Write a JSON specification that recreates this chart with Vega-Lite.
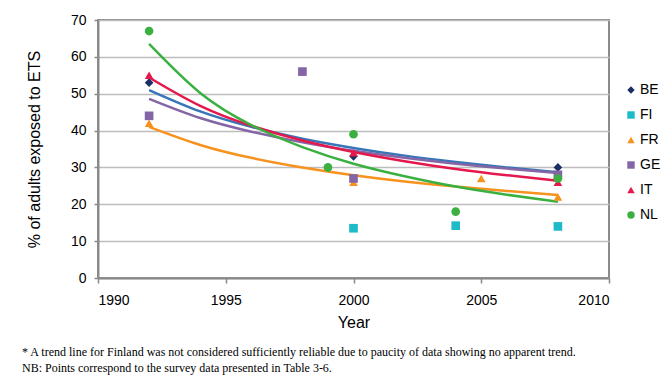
{
  "$schema": "https://vega.github.io/schema/vega-lite/v6.json",
  "width": 511,
  "height": 258,
  "autosize": {"type": "none"},
  "padding": {"left": 98, "top": 20, "right": 61, "bottom": 101},
  "background": "white",
  "title": {
    "text": ["* A trend line for Finland was not considered sufficiently reliable due to paucity of data showing no apparent trend.", "NB: Points correspond to the survey data presented in Table 3-6."],
    "orient": "bottom",
    "anchor": "start",
    "frame": "group",
    "dx": -76,
    "offset": 17,
    "font": "Liberation Serif",
    "fontSize": 12,
    "fontWeight": "normal",
    "color": "black",
    "lineHeight": 16
  },
  "datasets": {
    "points": [
      {"country": "BE", "year": 1992, "value": 53},
      {"country": "BE", "year": 2000, "value": 33},
      {"country": "BE", "year": 2008, "value": 30},
      {"country": "FI", "year": 2000, "value": 13.5},
      {"country": "FI", "year": 2004, "value": 14.2},
      {"country": "FI", "year": 2008, "value": 14},
      {"country": "FR", "year": 1992, "value": 42},
      {"country": "FR", "year": 2000, "value": 26},
      {"country": "FR", "year": 2005, "value": 27},
      {"country": "FR", "year": 2008, "value": 22},
      {"country": "GE", "year": 1992, "value": 44},
      {"country": "GE", "year": 1998, "value": 56},
      {"country": "GE", "year": 2000, "value": 27},
      {"country": "GE", "year": 2008, "value": 28},
      {"country": "IT", "year": 1992, "value": 55},
      {"country": "IT", "year": 2000, "value": 34},
      {"country": "IT", "year": 2008, "value": 26},
      {"country": "NL", "year": 1992, "value": 67},
      {"country": "NL", "year": 1999, "value": 30},
      {"country": "NL", "year": 2000, "value": 39},
      {"country": "NL", "year": 2004, "value": 18},
      {"country": "NL", "year": 2008, "value": 27}
    ],
    "trends": [
      {"country": "BE", "year": 1992, "value": 51.0},
      {"country": "BE", "year": 1994, "value": 45.2},
      {"country": "BE", "year": 1996, "value": 41.0},
      {"country": "BE", "year": 1998, "value": 37.8},
      {"country": "BE", "year": 2000, "value": 35.3},
      {"country": "BE", "year": 2002, "value": 33.2},
      {"country": "BE", "year": 2004, "value": 31.5},
      {"country": "BE", "year": 2006, "value": 30.0},
      {"country": "BE", "year": 2008, "value": 28.7},
      {"country": "FR", "year": 1992, "value": 41.0},
      {"country": "FR", "year": 1994, "value": 36.1},
      {"country": "FR", "year": 1996, "value": 32.6},
      {"country": "FR", "year": 1998, "value": 30.0},
      {"country": "FR", "year": 2000, "value": 27.9},
      {"country": "FR", "year": 2002, "value": 26.2},
      {"country": "FR", "year": 2004, "value": 24.8},
      {"country": "FR", "year": 2006, "value": 23.6},
      {"country": "FR", "year": 2008, "value": 22.5},
      {"country": "GE", "year": 1992, "value": 48.6},
      {"country": "GE", "year": 1994, "value": 43.4},
      {"country": "GE", "year": 1996, "value": 39.7},
      {"country": "GE", "year": 1998, "value": 36.8},
      {"country": "GE", "year": 2000, "value": 34.5},
      {"country": "GE", "year": 2002, "value": 32.6},
      {"country": "GE", "year": 2004, "value": 31.0},
      {"country": "GE", "year": 2006, "value": 29.7},
      {"country": "GE", "year": 2008, "value": 28.5},
      {"country": "IT", "year": 1992, "value": 54.4},
      {"country": "IT", "year": 1994, "value": 46.7},
      {"country": "IT", "year": 1996, "value": 41.3},
      {"country": "IT", "year": 1998, "value": 37.3},
      {"country": "IT", "year": 2000, "value": 34.2},
      {"country": "IT", "year": 2002, "value": 31.7},
      {"country": "IT", "year": 2004, "value": 29.6},
      {"country": "IT", "year": 2006, "value": 27.9},
      {"country": "IT", "year": 2008, "value": 26.4},
      {"country": "NL", "year": 1992, "value": 63.5},
      {"country": "NL", "year": 1994, "value": 50.2},
      {"country": "NL", "year": 1996, "value": 41.5},
      {"country": "NL", "year": 1998, "value": 35.5},
      {"country": "NL", "year": 2000, "value": 31.0},
      {"country": "NL", "year": 2002, "value": 27.6},
      {"country": "NL", "year": 2004, "value": 24.8},
      {"country": "NL", "year": 2006, "value": 22.6},
      {"country": "NL", "year": 2008, "value": 20.7}
    ]
  },
  "config": {
    "view": {"stroke": "#8a8a8a", "strokeWidth": 2},
    "axis": {
      "labelFont": "Liberation Sans",
      "titleFont": "Liberation Sans",
      "labelFontSize": 14,
      "titleFontSize": 16,
      "titleFontWeight": "normal",
      "labelColor": "black",
      "titleColor": "black",
      "domainColor": "#8a8a8a",
      "domainWidth": 2,
      "tickColor": "#8a8a8a",
      "tickWidth": 1.5
    },
    "legend": {
      "labelFont": "Liberation Sans",
      "labelFontSize": 14,
      "labelColor": "black"
    }
  },
  "encoding": {
    "x": {
      "field": "year",
      "type": "quantitative",
      "title": "Year",
      "scale": {"domain": [1990, 2010], "nice": false, "zero": false},
      "axis": {"values": [1990, 1995, 2000, 2005, 2010], "format": "d", "grid": false, "tickSize": 5, "labelPadding": 10, "titlePadding": 7}
    },
    "y": {
      "field": "value",
      "type": "quantitative",
      "title": "% of adults exposed to ETS",
      "scale": {"domain": [0, 70], "nice": false},
      "axis": {"values": [0, 10, 20, 30, 40, 50, 60, 70], "grid": true, "gridColor": "#bdbdbd", "gridWidth": 1.5, "tickSize": 4, "labelPadding": 8, "titlePadding": 28}
    }
  },
  "layer": [
    {
      "data": {"name": "trends"},
      "mark": {"type": "line", "strokeWidth": 2.5, "interpolate": "natural"},
      "encoding": {
        "detail": {"field": "country"},
        "stroke": {
          "field": "country",
          "type": "nominal",
          "scale": {"domain": ["BE", "FR", "GE", "IT", "NL"], "range": ["#3675B8", "#F7921E", "#8466A6", "#E4184C", "#3BB041"]},
          "legend": null
        }
      }
    },
    {
      "data": {"name": "points"},
      "mark": {"type": "point", "filled": true, "opacity": 1, "size": 75},
      "encoding": {
        "color": {
          "field": "country",
          "type": "nominal",
          "title": null,
          "scale": {"domain": ["BE", "FI", "FR", "GE", "IT", "NL"], "range": ["#1B2F66", "#1DBAC8", "#F7921E", "#8466A6", "#E4184C", "#3BB041"]},
          "legend": {"orient": "none", "legendX": 526, "legendY": 63, "rowPadding": 11, "symbolSize": 55, "labelOffset": 2}
        },
        "shape": {
          "field": "country",
          "type": "nominal",
          "title": null,
          "scale": {"domain": ["BE", "FI", "FR", "GE", "IT", "NL"], "range": ["diamond", "square", "triangle-up", "square", "triangle-up", "circle"]},
          "legend": {"orient": "none", "legendX": 526, "legendY": 63, "rowPadding": 11, "symbolSize": 55, "labelOffset": 2}
        }
      }
    }
  ]
}
